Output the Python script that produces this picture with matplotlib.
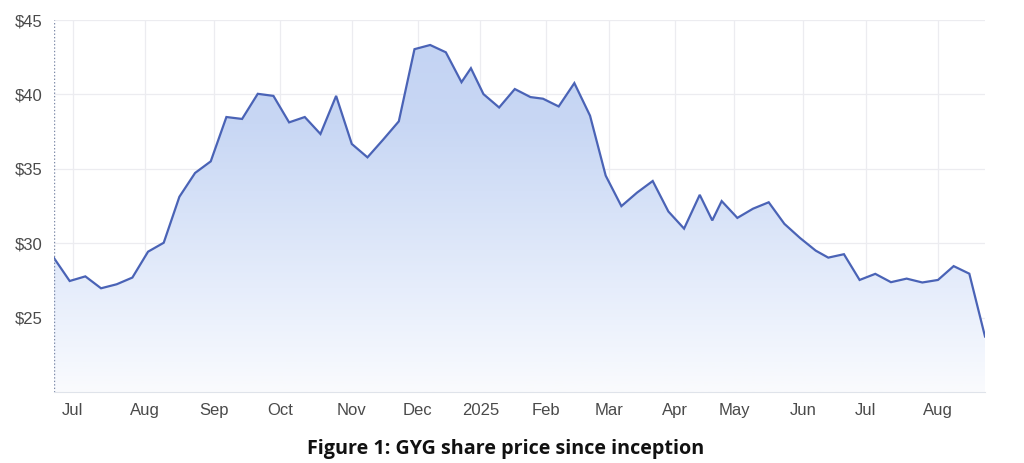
import numpy as np
import matplotlib.pyplot as plt
from matplotlib.colors import LinearSegmentedColormap

# weekly closes (last trading day of each week)
dates = [
    "2024-06-21", "2024-06-28", "2024-07-05", "2024-07-12", "2024-07-19", "2024-07-26",
    "2024-08-02", "2024-08-09", "2024-08-16", "2024-08-23", "2024-08-30",
    "2024-09-06", "2024-09-13", "2024-09-20", "2024-09-27",
    "2024-10-04", "2024-10-11", "2024-10-18", "2024-10-25",
    "2024-11-01", "2024-11-08", "2024-11-15", "2024-11-22", "2024-11-29",
    "2024-12-06", "2024-12-13", "2024-12-20", "2024-12-27",
    "2025-01-03", "2025-01-10", "2025-01-17", "2025-01-24", "2025-01-31",
    "2025-02-07", "2025-02-14", "2025-02-21", "2025-02-28",
    "2025-03-07", "2025-03-14", "2025-03-21", "2025-03-28",
    "2025-04-04", "2025-04-11", "2025-04-17", "2025-04-24",
    "2025-05-02", "2025-05-09", "2025-05-16", "2025-05-23", "2025-05-30",
    "2025-06-06", "2025-06-13", "2025-06-20", "2025-06-27",
    "2025-07-04", "2025-07-11", "2025-07-18", "2025-07-25",
    "2025-08-01", "2025-08-08", "2025-08-15", "2025-08-22",
]
prices = [
    29.00, 27.46, 27.77, 26.97, 27.24, 27.69,
    29.43, 30.03, 33.12, 34.72, 35.50,
    38.48, 38.35, 40.04, 39.90,
    38.12, 38.48, 37.34, 39.90,
    36.67, 35.77, 36.96, 38.19, 43.04,
    43.32, 42.83, 40.82, 41.76,
    40.02, 39.12, 40.36, 39.82, 39.71,
    39.19, 40.76, 38.57, 34.54,
    32.49, 33.40, 34.18, 32.13,
    30.98, 33.25, 31.53, 32.83,
    31.70, 32.32, 32.75, 31.30, 30.35,
    29.50, 29.03, 29.26, 27.53,
    27.94, 27.38, 27.62, 27.36,
    27.53, 28.46, 27.95, 23.73,
]
# ASX market holidays (x axis counts trading days)
holidays = ["2024-12-25", "2024-12-26", "2025-01-01", "2025-01-27",
            "2025-04-18", "2025-04-21", "2025-04-25", "2025-06-09"]

month_starts = ["2024-07-01", "2024-08-01", "2024-09-01", "2024-10-01", "2024-11-01",
                "2024-12-01", "2025-01-01", "2025-02-01", "2025-03-01", "2025-04-01",
                "2025-05-01", "2025-06-01", "2025-07-01", "2025-08-01"]
month_labels = ["Jul", "Aug", "Sep", "Oct", "Nov", "Dec", "2025", "Feb", "Mar",
                "Apr", "May", "Jun", "Jul", "Aug"]

y_ticks = [25, 30, 35, 40, 45]
y_labels = ["$25", "$30", "$35", "$40", "$45"]

start = np.datetime64(dates[0])
x = np.busday_count(start, np.array(dates, dtype="datetime64[D]"), holidays=holidays)
first_days = np.busday_offset(np.array(month_starts, dtype="datetime64[D]"), 0,
                              roll="forward", holidays=holidays)
tick_pos = np.busday_count(start, first_days, holidays=holidays)

plt.rcParams["font.family"] = ["Liberation Sans", "DejaVu Sans"]

fig = plt.figure(figsize=(10.24, 4.63), dpi=100)
ax = fig.add_axes([54 / 1024, 71 / 463, 931 / 1024, 372 / 463])

ymin, ymax = 20, 45

# gradient fill under the line
cmap = LinearSegmentedColormap.from_list(
    "fade",
    [(0.0, "#fafbfd"), (0.12, "#f1f5fd"), (0.28, "#e6edfb"),
     (0.48, "#d8e3f8"), (0.72, "#c8d7f4"), (1.0, "#c3d3f3")])
poly = ax.fill_between(x, prices, ymin, color="none", lw=0)
grad = np.linspace(0, 1, 256).reshape(-1, 1)
im = ax.imshow(grad, extent=[x[0], x[-1], ymin, ymax], origin="lower",
               aspect="auto", cmap=cmap, zorder=1, interpolation="bilinear")
im.set_clip_path(poly.get_paths()[0], transform=ax.transData)

ax.plot(x, prices, color="#4a63b6", lw=1.6, zorder=3, solid_joinstyle="miter")
ax.axvline(x[0], color="#7d8aa8", lw=1.0, linestyle=(0, (1, 1.5)), zorder=4)

ax.set_xlim(x[0], x[-1])
ax.set_ylim(ymin, ymax)
ax.set_xticks(tick_pos)
ax.set_xticklabels(month_labels)
ax.set_yticks(y_ticks)
ax.set_yticklabels(y_labels)
ax.tick_params(length=0, labelsize=12, labelcolor="#4a4a4a")
ax.tick_params(axis="x", pad=8)
ax.tick_params(axis="y", pad=8)
ax.grid(True, color="#ececf0", lw=0.9, zorder=0)
ax.set_axisbelow(True)
for side in ["top", "right", "left"]:
    ax.spines[side].set_visible(False)
ax.spines["bottom"].set_color("#dfe3ea")

fig.text(506 / 1024, 1 - 449 / 463, "Figure 1: GYG share price since inception",
         ha="center", va="center", fontsize=14.2, fontweight="bold",
         family=["Open Sans", "DejaVu Sans"], color="#111111")

plt.savefig("out.png", dpi=100)
